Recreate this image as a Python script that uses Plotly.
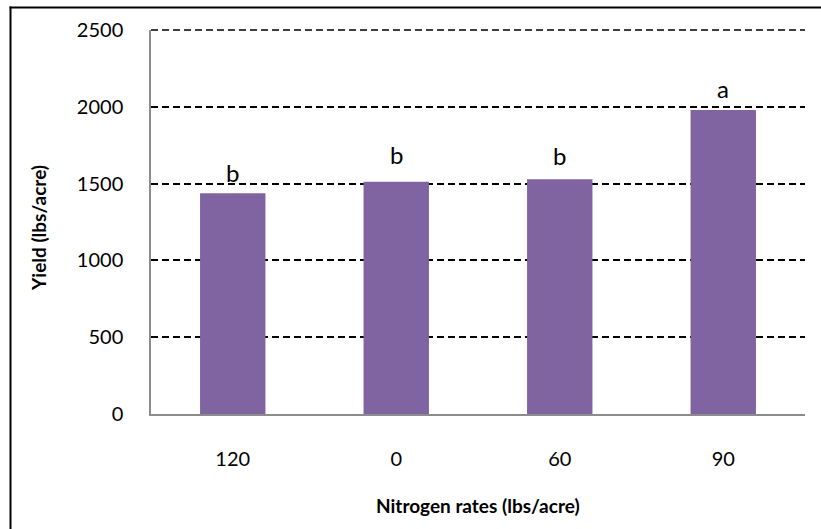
import plotly.graph_objects as go

categories = ["120", "0", "60", "90"]
yields = [1437, 1512, 1528, 1979]
letters = ["b", "b", "b", "a"]
letter_shift = [21, 27, 24, 22]
y_ticks = [0, 500, 1000, 1500, 2000, 2500]

FONT = "Lato"
BAR_COLOR = "#8064A2"

fig = go.Figure()
fig.add_trace(go.Bar(
    x=categories, y=yields, marker=dict(color=BAR_COLOR, line=dict(width=0)),
    width=0.4, hoverinfo="skip",
))

for i, (v, t, s) in enumerate(zip(yields, letters, letter_shift)):
    fig.add_annotation(x=i, y=v, text=t, showarrow=False, yanchor="middle",
                       yshift=s, font=dict(family=FONT, size=24, color="#000"))

# top gridline at the range edge (plotly omits it); paper refs avoid clipping
fig.add_shape(type="line", xref="paper", yref="paper", x0=0, x1=1, y0=1, y1=1,
              line=dict(color="#000", width=1.5, dash="7px,4px"), layer="above")

# axis titles
fig.add_annotation(xref="paper", yref="paper", x=(38 - 151) / 654, y=(414 - 228) / 384,
                   text="<b>Yield (lbs/acre)</b>", textangle=-90, showarrow=False,
                   xanchor="center", yanchor="middle",
                   font=dict(family=FONT, size=19, color="#000"))
fig.add_annotation(xref="paper", yref="paper", x=0.5, y=(414 - 505) / 384,
                   text="<b>Nitrogen rates (lbs/acre)</b>", showarrow=False,
                   xanchor="center", yanchor="middle",
                   font=dict(family=FONT, size=19, color="#000"))

# outer chart border (only top and left edges fall inside the picture)
fig.add_shape(type="rect", xref="paper", yref="paper",
              x0=(9.5 - 151) / 654, x1=(830 - 151) / 654,
              y0=(414 - 8.5) / 384, y1=(414 - 6.5) / 384,
              fillcolor="#000", line=dict(width=0), layer="above")
fig.add_shape(type="rect", xref="paper", yref="paper",
              x0=(9.5 - 151) / 654, x1=(11.5 - 151) / 654,
              y0=(414 - 540) / 384, y1=(414 - 6.5) / 384,
              fillcolor="#000", line=dict(width=0), layer="above")

fig.update_layout(
    width=821, height=529,
    margin=dict(l=151, r=16, t=30, b=115, autoexpand=False),
    paper_bgcolor="white", plot_bgcolor="white",
    showlegend=False,
    font=dict(family=FONT, size=20, color="#000"),
)
fig.update_xaxes(
    type="category", range=[-0.5, 3.5], automargin=False,
    showline=True, linecolor="#8c8c8c", linewidth=1.5,
    showgrid=False, ticks="", ticklabelstandoff=26,
    tickfont=dict(family=FONT, size=20, color="#000"),
)
fig.update_yaxes(
    range=[0, 2500], tickvals=y_ticks, automargin=False,
    showline=True, linecolor="#8c8c8c", linewidth=1.5,
    showgrid=True, gridcolor="#000", gridwidth=1.5, griddash="7px,4px",
    zeroline=False, ticks="", ticklabelstandoff=22,
    tickfont=dict(family=FONT, size=20, color="#000"),
)

fig.write_html(
    "out.html", config={"displayModeBar": False},
    post_script=("document.documentElement.style.margin='0';"
                 "document.documentElement.style.padding='0';"
                 "document.body.style.margin='0';document.body.style.padding='0';"),
)
